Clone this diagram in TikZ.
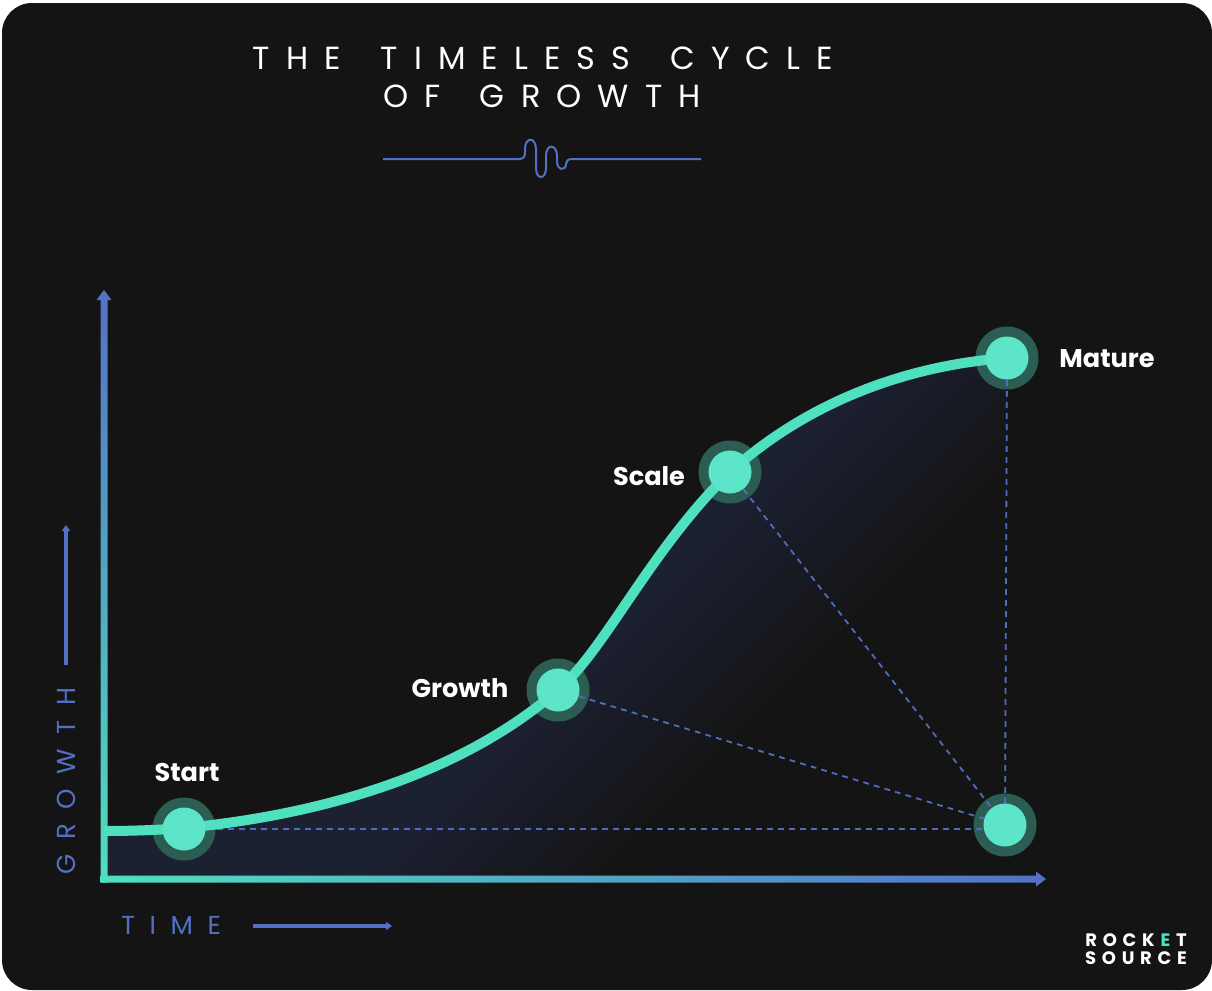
\documentclass[tikz,border=0pt]{standalone}
\usepackage{fontspec}
\usetikzlibrary{arrows.meta,calc}
\setmainfont{Poppins}
\newfontfamily\titlefont[LetterSpace=50.5,WordSpace=1.6]{Poppins}
\newfontfamily\axisfont[LetterSpace=56]{Poppins}
\newfontfamily\logofont[LetterSpace=32]{Poppins}
\definecolor{panelc}{HTML}{141414}
\definecolor{tealc}{HTML}{4FE0BF}
\definecolor{dotc}{HTML}{5CE5C9}
\definecolor{haloc}{HTML}{2B5D52}
\definecolor{bluec}{HTML}{5470C6}
\definecolor{axismid}{HTML}{4C9AC6}
\definecolor{dashc}{HTML}{506CC2}
\definecolor{areac}{HTML}{1C2132}
\newcommand{\curvepath}{(104,831) .. controls (130,831) and (160,830) .. (184,828)
  .. controls (320,815) and (460,775) .. (558,690)
  .. controls (605,650) and (650,550) .. (730,472)
  .. controls (810,400) and (910,365) .. (1007,358)}
\tikzset{
  halodot/.style={circle, inner sep=0, outer sep=0, minimum size=63*0.5pt, fill=haloc},
  stagedot/.style={circle, inner sep=0, outer sep=0, minimum size=43*0.5pt, fill=dotc},
  stagelabel/.style={text=white, font=\bfseries\fontsize{12.8}{15}\selectfont},
  dashline/.style={dashc, line width=0.9pt, dash pattern=on 2.9pt off 2.6pt},
  smallarrow/.style={bluec, line width=1.6pt, -{Triangle[length=3pt,width=4pt]}},
  titletext/.style={text=white, font=\titlefont\fontsize{16}{20}\selectfont},
  axistext/.style={text=bluec, font=\axisfont\fontsize{13}{15}\selectfont},
  logotext/.style={text=white, font=\logofont\bfseries\fontsize{9}{10}\selectfont}
}
\begin{document}
\begin{tikzpicture}[x=0.5pt, y=-0.5pt]
  \useasboundingbox (0,0) rectangle (1212,991);
  \fill[white] (0,0) rectangle (1212,991);
  \fill[panelc, rounded corners=15pt] (2,3) rectangle (1212,990);

  % Title and squiggle
  \node[titletext] (titleone) at (543,58) {THE TIMELESS CYCLE};
  \node[titletext] (titletwo) at (542,96) {OF GROWTH};
  \draw[bluec, line width=1pt] (383,159) -- (519,159)
    .. controls (524,159) and (525,156) .. (525,152) -- (525,149)
    .. controls (525,137) and (536,136) .. (536,150) -- (536,168)
    .. controls (536,180) and (546,180) .. (546,168) -- (546,156)
    .. controls (546,143) and (557,144) .. (557,156) -- (557,161)
    .. controls (557,171) and (566,171) .. (566,164)
    .. controls (566,161) and (568,159) .. (572,159) -- (701,159);

  % Area under the curve, fading along the diagonal
  \begin{scope}
    \clip \curvepath -- (1007,876) -- (104,876) -- cycle;
    \fill[areac] (0,0) rectangle (1212,991);
    \foreach \i in {0,...,25} {
      \pgfmathsetmacro\v{1230+10*\i}
      \pgfmathsetmacro\p{100-4*\i}
      \fill[areac!\p!panelc] (\v+1000,-1000) -- (\v-1000,1000) -- (\v+1000,1000) -- cycle;
    }
  \end{scope}

  % Axes
  \coordinate (origin) at (104,879);
  \coordinate (ytip) at (104,290);
  \coordinate (xtip) at (1046,879);
  \shade[bottom color=tealc, middle color=axismid, top color=bluec]
    ($(origin)+(-3.5,3.5)$) -- ($(origin)+(3.5,3.5)$) -- ($(ytip)+(3.5,10)$) -- ($(ytip)+(7.5,10)$)
    -- (ytip) -- ($(ytip)+(-7.5,10)$) -- ($(ytip)+(-3.5,10)$) -- cycle;
  \shade[left color=tealc, middle color=axismid, right color=bluec]
    ($(origin)+(-3.5,-3.5)$) -- ($(xtip)+(-10,-3.5)$) -- ($(xtip)+(-10,-7.5)$)
    -- (xtip) -- ($(xtip)+(-10,7.5)$) -- ($(xtip)+(-10,3.5)$) -- ($(origin)+(-3.5,3.5)$) -- cycle;

  % Stages
  \foreach \name/\x/\y in {start/184/829, growth/558/690, scale/730/472, mature/1007/358, base/1005/825} {
    \node[halodot] (\name) at (\x,\y) {};
  }
  \draw[dashline] (start.center) -- (base.center |- start.center);
  \draw[dashline] (growth.center) -- (base.center);
  \draw[dashline] (scale.center) -- (base.center);
  \draw[dashline] (mature.center) -- (base.center);
  \draw[tealc, line width=5pt] \curvepath;
  \foreach \name/\x/\y in {start/184/829, growth/558/690, scale/730/472, mature/1007/358, base/1005/825} {
    \node[stagedot] (\name dot) at (\x,\y) {};
  }
  \node[stagelabel] (startlabel) at (187,772) {Start};
  \node[stagelabel] (growthlabel) at (460,688) {Growth};
  \node[stagelabel] (scalelabel) at (649,476) {Scale};
  \node[stagelabel] (maturelabel) at (1107,359) {Mature};

  % Axis captions
  \node[axistext, rotate=90] (growthaxis) at (66,781) {GROWTH};
  \coordinate (growthfoot) at (66,665);
  \coordinate (growthhead) at (66,525);
  \draw[smallarrow] (growthfoot) -- (growthhead);
  \node[axistext] (timeaxis) at (171,925) {TIME};
  \coordinate (timefoot) at (253,926);
  \coordinate (timehead) at (392,926);
  \draw[smallarrow] (timefoot) -- (timehead);

  % Logo
  \node[logotext] (logoone) at (1136,940) {ROCK\kern2.9pt\textcolor{tealc}{E}\kern2.9pt T};
  \node[logotext] (logotwo) at (1136,958) {SOURCE};
\end{tikzpicture}
\end{document}
